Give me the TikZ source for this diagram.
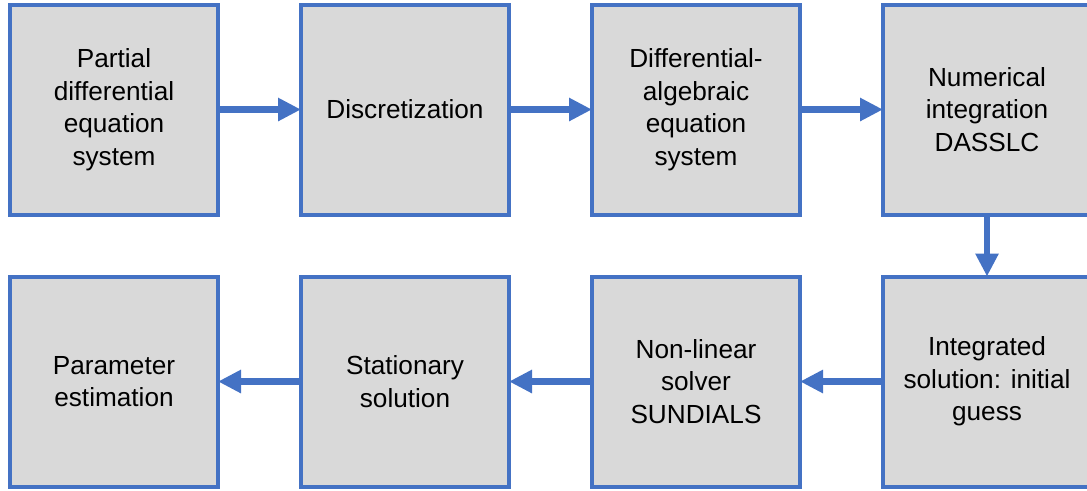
\documentclass[tikz,border=0pt]{standalone}
\usepackage{fontspec}
\setmainfont{Liberation Sans}
\usetikzlibrary{arrows.meta, positioning}
\definecolor{flowblue}{HTML}{4472C4}
\definecolor{flowgray}{HTML}{D9D9D9}

\begin{document}
\begin{tikzpicture}[
    node distance=1.24cm and 1.66cm,
    box/.style={draw=flowblue,fill=flowgray,line width=0.08cm,outer sep=0pt,minimum width=4.16cm,minimum height=4.2cm,align=center,font=\fontsize{14.9}{18.5}\selectfont},
    flow/.style={-{Triangle[length=0.46cm,width=0.44cm]},line width=0.13cm,flowblue},
  ]
    \useasboundingbox (0,0) rectangle (21.74,-9.8);
    % top row
    \node[box] (pde) at (2.28,-2.19) {Partial\\differential\\equation\\system};
    \node[box, right=of pde] (disc) {Discretization};
    \node[box, right=of disc] (dae) {Differential-\\algebraic\\equation\\system};
    \node[box, right=of dae] (integ) {Numerical\\integration\\DASSLC};
    % bottom row, right to left
    \node[box, below=of integ] (guess) {Integrated\\solution: initial\\guess};
    \node[box, left=of guess] (nlsolve) {Non-linear\\solver\\SUNDIALS};
    \node[box, left=of nlsolve] (stat) {Stationary\\solution};
    \node[box, left=of stat] (param) {Parameter\\estimation};

    \draw[flow] (pde) -- (disc);
    \draw[flow] (disc) -- (dae);
    \draw[flow] (dae) -- (integ);
    \draw[flow] (integ) -- (guess);
    \draw[flow] (guess) -- (nlsolve);
    \draw[flow] (nlsolve) -- (stat);
    \draw[flow] (stat) -- (param);
\end{tikzpicture}
\end{document}
